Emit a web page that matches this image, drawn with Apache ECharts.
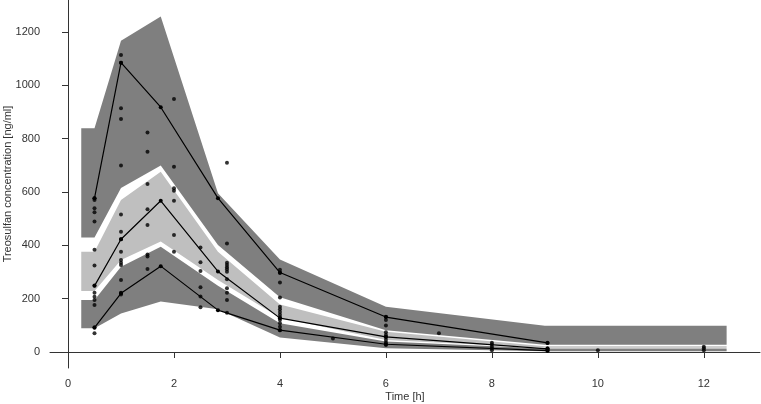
<!DOCTYPE html>
<html>
<head>
<meta charset="utf-8">
<script src="https://cdn.jsdelivr.net/npm/echarts@6/dist/echarts.min.js"></script>
<style>
  html, body { margin: 0; padding: 0; background: #fff; }
  #chart { width: 761px; height: 404px; }
</style>
</head>
<body>
<div id="chart"></div>
<script>
// tick labels
const xTicks = [0, 2, 4, 6, 8, 10, 12];
const yTicks = [0, 200, 400, 600, 800, 1000, 1200];

// prediction interval bands (bin edges / medians)
const bandX = [0.25, 0.5, 1, 1.75, 2.83, 4, 6, 9, 12.43];
const upperLo = [429, 429, 615, 699, 401, 205, 82, 27, 27];
const upperHi = [839, 839, 1167, 1258, 595, 347, 170, 98, 98];
const medLo = [229, 229, 345, 414, 270, 128, 45, 16, 16];
const medHi = [376, 376, 570, 676, 376, 178, 76, 22, 22];
const lowerLo = [89, 89, 144, 189, 160, 54, 14, 3, 3];
const lowerHi = [195, 195, 320, 395, 248, 108, 39, 13, 13];

// observed percentiles
const lineX = [0.5, 1, 1.75, 2.83, 4, 6, 9.05];
const obsP95 = [577, 1085, 918, 577, 298, 131, 34];
const obsP50 = [248, 423, 567, 302, 127, 57, 12];
const obsP05 = [91, 220, 322, 157, 82, 29, 5];

// observed concentrations per sampling time
const obsTimes = [0.5, 1, 1.5, 2, 2.5, 3, 4, 5, 6, 7, 8, 9.05, 10, 12];
const obsConc = [
  [577, 570, 539, 524, 489, 383, 324, 249, 222, 207, 195, 176, 93, 70],
  [1114, 1085, 914, 874, 699, 516, 451, 423, 376, 345, 335, 326, 270, 222, 216],
  [823, 751, 630, 535, 476, 366, 358, 311],
  [949, 695, 614, 605, 567, 439, 376],
  [392, 337, 304, 243, 208, 168],
  [710, 407, 335, 326, 318, 310, 301, 273, 239, 222, 195, 147],
  [308, 296, 261, 204, 170, 160, 150, 140, 130, 120, 108, 95, 82],
  [51],
  [132, 120, 99, 74, 64, 55, 45, 36, 26],
  [70],
  [35, 28, 20, 13, 7],
  [35, 14, 9, 5],
  [7],
  [20, 14, 7]
];

const chart = echarts.init(document.getElementById('chart'));

// polygon between lo and hi, through the axis scales
function band(lo, hi, color) {
  return {
    type: 'custom',
    silent: true,
    z: 1,
    data: [[0, 0]],
    renderItem: function (params, api) {
      const pts = [];
      for (let i = 0; i < bandX.length; i++) pts.push(api.coord([bandX[i], hi[i]]));
      for (let i = bandX.length - 1; i >= 0; i--) pts.push(api.coord([bandX[i], lo[i]]));
      return { type: 'polygon', shape: { points: pts }, style: { fill: color } };
    }
  };
}

function obsLine(ys) {
  return {
    type: 'line',
    z: 3,
    silent: true,
    data: lineX.map((x, i) => [x, ys[i]]),
    symbol: 'circle',
    symbolSize: 4,
    itemStyle: { color: '#000' },
    lineStyle: { color: '#000', width: 1.2 }
  };
}

const points = [];
obsTimes.forEach((t, i) => obsConc[i].forEach(c => points.push([t, c])));

const axisColor = '#333';
const plain = v => String(v);

const option = {
  animation: false,
  textStyle: { fontFamily: 'Liberation Sans, Arial, sans-serif' },
  grid: { left: 50, right: 1, top: 0, height: 368, containLabel: false, outerBoundsMode: 'none' },
  xAxis: {
    type: 'value',
    min: -0.34,
    max: 13.06,
    name: 'Time [h]',
    nameLocation: 'middle',
    nameGap: 23,
    nameMoveOverlap: false,
    nameTextStyle: { fontSize: 11, color: axisColor },
    axisLine: { show: true, lineStyle: { color: axisColor, width: 1 } },
    axisTick: { show: true, length: 6, customValues: xTicks, lineStyle: { color: axisColor } },
    axisLabel: { fontSize: 11, color: axisColor, margin: 10, customValues: xTicks, formatter: plain },
    splitLine: { show: false }
  },
  yAxis: {
    type: 'value',
    min: -60,
    max: 1320,
    name: 'Treosulfan concentration [ng/ml]',
    nameLocation: 'middle',
    nameGap: 37,
    nameMoveOverlap: false,
    nameTextStyle: { fontSize: 11, color: axisColor },
    axisLine: { show: true, lineStyle: { color: axisColor, width: 1 } },
    axisTick: { show: true, length: 6, customValues: yTicks, lineStyle: { color: axisColor } },
    axisLabel: { fontSize: 11, color: axisColor, margin: 10, customValues: yTicks, formatter: plain },
    splitLine: { show: false }
  },
  series: [
    band(upperLo, upperHi, '#7f7f7f'),
    band(medLo, medHi, '#bfbfbf'),
    band(lowerLo, lowerHi, '#7f7f7f'),
    obsLine(obsP95),
    obsLine(obsP50),
    obsLine(obsP05),
    {
      type: 'scatter',
      z: 4,
      silent: true,
      data: points,
      symbol: 'circle',
      symbolSize: 4,
      itemStyle: { color: '#000' }
    }
  ]
};

chart.setOption(option);
</script>
</body>
</html>
